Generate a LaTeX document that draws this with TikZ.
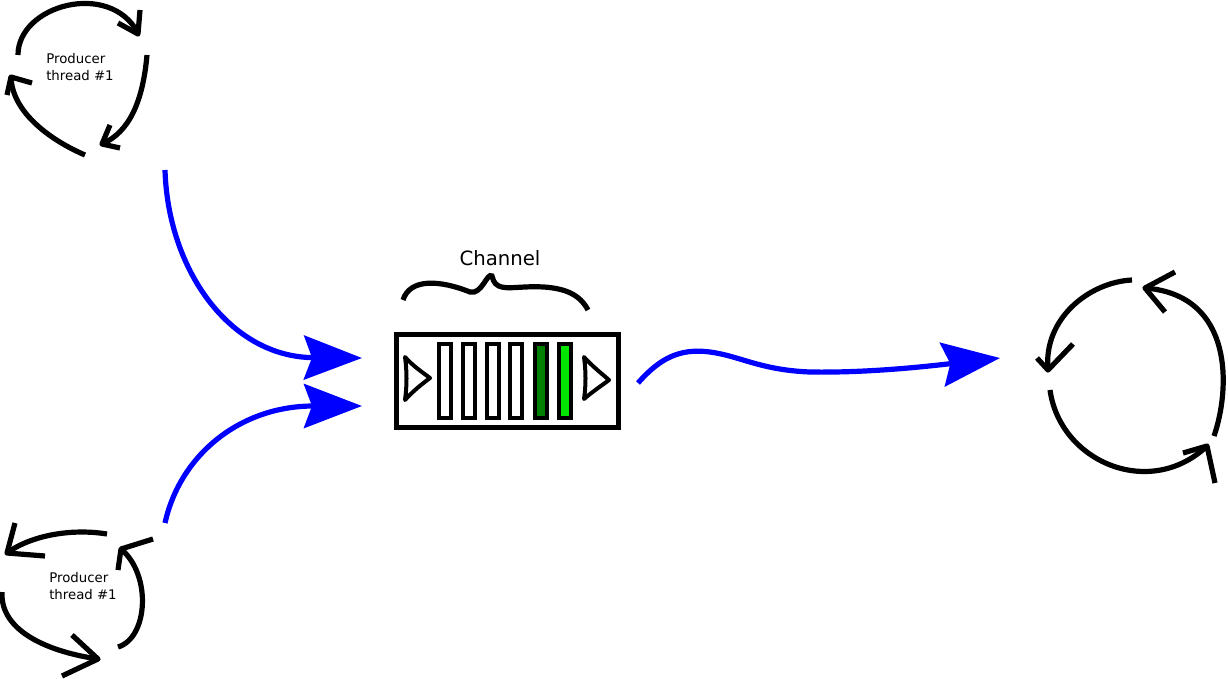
\documentclass[tikz,border=0pt]{standalone}
\usepackage{fontspec}
\setmainfont{DejaVu Sans}
\usetikzlibrary{arrows.meta}
\definecolor{darkgr}{RGB}{0,128,0}
\definecolor{litegr}{RGB}{0,230,0}
\begin{document}
\begin{tikzpicture}[x=1pt,y=-1pt,
  cyc/.style={line width=5.2pt, draw=black},
  cychead/.style={line width=5.2pt, draw=black, line join=round},
  flow/.style={line width=5.2pt, draw=blue, -{Stealth[length=58pt,width=44pt,inset=8pt]}, blue},
  cell/.style={draw=black, line width=4.2pt, minimum width=12pt, minimum height=74pt, inner sep=0pt},
  lbl/.style={font=\fontsize{13.3}{17}\selectfont, align=left, inner sep=0pt},
  tri/.style={draw=black, line width=4pt, line join=round}]
\useasboundingbox (0,0) rectangle (1228,678);

% ---------- producer 1 (top left) ----------
\node[lbl] (prod1) at (80,67) {Producer\\thread \#1};
\draw[cyc] (18,55) .. controls (18,5) and (110,-20) .. (138,33);
\draw[cychead] (118,23) -- (138,34) -- (140,10);
\draw[cyc] (147,55) .. controls (143,100) and (130,132) .. (102,144);
\draw[cychead] (110,125) -- (102,144) -- (120,148);
\draw[cyc] (85,155) .. controls (50,140) and (12,112) .. (11,77);
\draw[cychead] (32,83) -- (11,77) -- (7,95);

% ---------- producer 2 (bottom left) ----------
\node[lbl] (prod2) at (83,586) {Producer\\thread \#1};
\draw[cyc] (107,534) .. controls (70,528) and (30,536) .. (7,553);
\draw[cychead] (15,523) -- (7,553) -- (45,556);
\draw[cyc] (118,647) .. controls (148,638) and (152,575) .. (121,549);
\draw[cychead] (153,539) -- (121,549) -- (118,570);
\draw[cyc] (2,592) .. controls (0,632) and (50,652) .. (98,659);
\draw[cychead] (72,635) -- (98,659) -- (62,676);

% ---------- consumer (right) ----------
\draw[cyc] (1132,280) .. controls (1090,282) and (1043,318) .. (1048,370);
\draw[cychead] (1073,344) -- (1048,370) -- (1037,358);
\draw[cyc] (1214,436) .. controls (1230,390) and (1235,295) .. (1145,288);
\draw[cychead] (1175,272) -- (1145,288) -- (1165,312);
\draw[cyc] (1050,390) .. controls (1060,462) and (1150,500) .. (1207,446);
\draw[cychead] (1183,453) -- (1207,446) -- (1215,483);

% ---------- channel ----------
\node[draw=black, line width=5pt, minimum width=222pt, minimum height=93pt, inner sep=0pt] (chan) at (507,380.5) {};
\node[cell] (c1) at (445,381) {};
\node[cell] (c2) at (469,381) {};
\node[cell] (c3) at (493,381) {};
\node[cell] (c4) at (516,381) {};
\node[cell, fill=darkgr] (c5) at (541,381) {};
\node[cell, fill=litegr] (c6) at (565,381) {};
\draw[tri] (405,357) .. controls (413,366) and (422,372) .. (430,378)
  .. controls (422,384) and (413,391) .. (405,400) .. controls (407,386) and (407,371) .. cycle;
\draw[tri] (584,357) .. controls (592,366) and (601,373) .. (609,380)
  .. controls (601,386) and (592,392) .. (584,399) .. controls (586,386) and (586,371) .. cycle;

\node[font=\fontsize{19.7}{24}\selectfont, inner sep=0pt] (chlabel) at (500,258) {Channel};
\draw[cyc] (403,300) .. controls (410,278) and (440,280) .. (470,292)
  .. controls (482,295) and (487,272) .. (492,276)
  .. controls (495,290) and (505,288) .. (525,287)
  .. controls (565,285) and (580,295) .. (588,310);

% ---------- flows ----------
\coordinate (p1out) at (165,170);
\coordinate (p2out) at (165,523);
\coordinate (in1) at (362,358);
\coordinate (in2) at (362,406);
\coordinate (chout) at (638,383);
\coordinate (consin) at (1000,358);
\draw[flow] (p1out) .. controls (168,270) and (230,357) .. (in1);
\draw[flow] (p2out) .. controls (180,455) and (240,406) .. (in2);
\draw[flow] (chout) .. controls (660,358) and (680,348) .. (710,352)
  .. controls (740,356) and (760,370) .. (810,372)
  .. controls (870,373) and (930,366) .. (consin);
\end{tikzpicture}
\end{document}
